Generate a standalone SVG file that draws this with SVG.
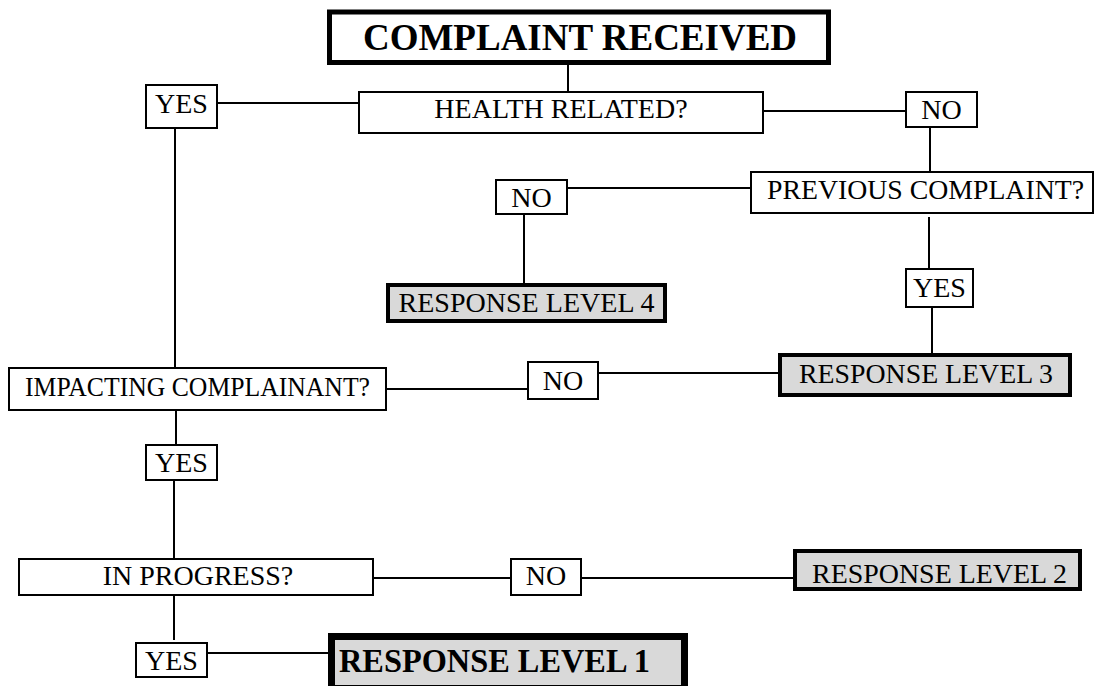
<svg xmlns="http://www.w3.org/2000/svg" width="1094" height="686" viewBox="0 0 1094 686">
<style>
.bx{fill:#ffffff;stroke:#000;stroke-width:2}
.rl{fill:#d9d9d9;stroke:#000;stroke-width:4}
.t{font-family:"Liberation Serif","Times New Roman",serif;font-size:28px;fill:#000;text-anchor:middle}
.b{font-family:"Liberation Serif","Times New Roman",serif;font-weight:bold;fill:#000;text-anchor:middle}
#connectors line{stroke:#000;stroke-width:2}
</style>
<rect width="1094" height="686" fill="#fff"/>
<g id="connectors">
<line x1="568" y1="65" x2="568" y2="92"/>
<line x1="217" y1="103" x2="359" y2="103"/>
<line x1="175" y1="128" x2="175" y2="368"/>
<line x1="763" y1="111" x2="906" y2="111"/>
<line x1="930" y1="127" x2="930" y2="180"/>
<line x1="567" y1="188" x2="751" y2="188"/>
<line x1="524" y1="214" x2="524" y2="284"/>
<line x1="929" y1="217" x2="929" y2="269"/>
<line x1="932" y1="307" x2="932" y2="353"/>
<line x1="598" y1="373" x2="778" y2="373"/>
<line x1="386" y1="389" x2="528" y2="389"/>
<line x1="176" y1="410" x2="176" y2="445"/>
<line x1="174" y1="480" x2="174" y2="563"/>
<line x1="370" y1="578" x2="511" y2="578"/>
<line x1="581" y1="578" x2="793" y2="578"/>
<line x1="174" y1="595" x2="174" y2="640"/>
<line x1="207" y1="653" x2="328" y2="653"/>
</g>
<g id="complaint-received">
<rect x="329.5" y="12" width="499" height="50.5" fill="#fff" stroke="#000" stroke-width="5"/>
<text class="b" x="580" y="50" font-size="37">COMPLAINT RECEIVED</text>
</g>
<g id="health-related">
<rect class="bx" x="359" y="92" width="404" height="41"/>
<text class="t" x="561" y="118">HEALTH RELATED?</text>
</g>
<g id="yes-health">
<rect class="bx" x="146" y="85" width="71" height="43"/>
<text class="t" x="181.5" y="113">YES</text>
</g>
<g id="no-health">
<rect class="bx" x="906" y="92" width="71" height="35"/>
<text class="t" x="941.5" y="119">NO</text>
</g>
<g id="previous-complaint">
<rect class="bx" x="751" y="172" width="342" height="41"/>
<text class="t" x="925.5" y="199" textLength="317" lengthAdjust="spacingAndGlyphs">PREVIOUS COMPLAINT?</text>
</g>
<g id="no-previous">
<rect class="bx" x="496" y="180" width="71" height="34"/>
<text class="t" x="531.5" y="207">NO</text>
</g>
<g id="response-level-4">
<rect class="rl" x="388" y="285" width="277" height="36"/>
<text class="t" x="526.5" y="312" textLength="256" lengthAdjust="spacingAndGlyphs">RESPONSE LEVEL 4</text>
</g>
<g id="yes-previous">
<rect class="bx" x="906" y="269" width="67" height="38"/>
<text class="t" x="939.5" y="297">YES</text>
</g>
<g id="response-level-3">
<rect class="rl" x="780" y="355" width="290" height="40"/>
<text class="t" x="926" y="383" textLength="254" lengthAdjust="spacingAndGlyphs">RESPONSE LEVEL 3</text>
</g>
<g id="no-impacting">
<rect class="bx" x="528" y="362" width="70" height="37"/>
<text class="t" x="563" y="390">NO</text>
</g>
<g id="impacting-complainant">
<rect class="bx" x="9" y="368" width="377" height="42"/>
<text class="t" x="197.5" y="396" font-size="26" textLength="345" lengthAdjust="spacingAndGlyphs">IMPACTING COMPLAINANT?</text>
</g>
<g id="yes-impacting">
<rect class="bx" x="146" y="445" width="71" height="35"/>
<text class="t" x="181.5" y="472">YES</text>
</g>
<g id="in-progress">
<rect class="bx" x="19" y="559" width="354" height="36"/>
<text class="t" x="198" y="585">IN PROGRESS?</text>
</g>
<g id="no-progress">
<rect class="bx" x="511" y="559" width="70" height="36"/>
<text class="t" x="546" y="585">NO</text>
</g>
<g id="response-level-2">
<rect class="rl" x="795" y="551" width="285" height="38"/>
<text class="t" x="939.5" y="583" textLength="255" lengthAdjust="spacingAndGlyphs">RESPONSE LEVEL 2</text>
</g>
<g id="yes-progress">
<rect class="bx" x="136" y="643" width="71" height="34"/>
<text class="t" x="171.5" y="670">YES</text>
</g>
<g id="response-level-1">
<rect x="331.5" y="636.5" width="353" height="52" fill="#d9d9d9" stroke="#000" stroke-width="7"/>
<text class="b" x="494.5" y="672" font-size="34" textLength="311" lengthAdjust="spacingAndGlyphs">RESPONSE LEVEL 1</text>
</g>
</svg>
